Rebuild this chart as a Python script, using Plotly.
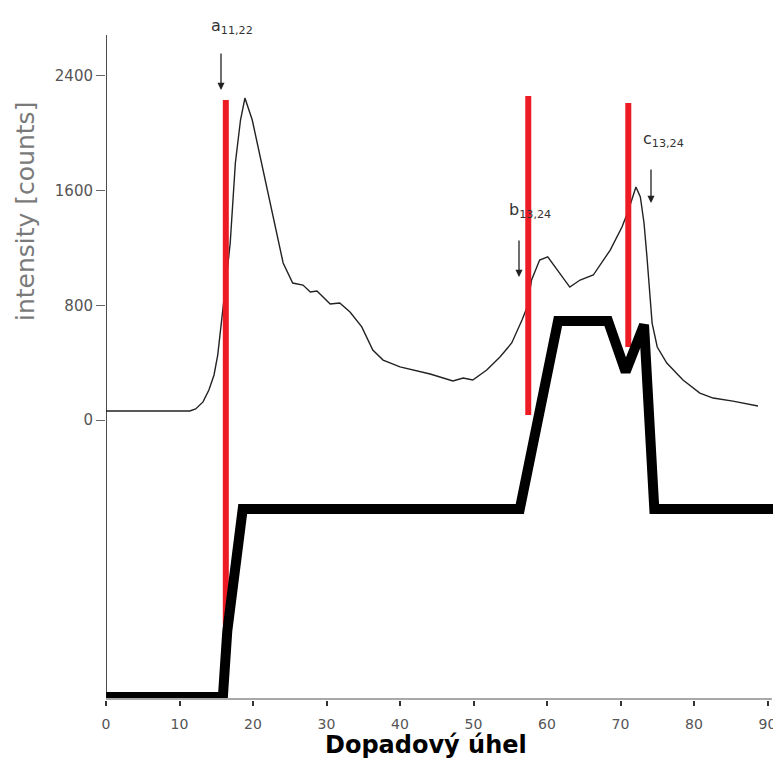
import plotly.graph_objects as go

# ---------------- data ----------------
intensity_deg = [0, 4.6, 11.4, 12.2, 13.2, 14.0, 14.7, 15.2, 15.6, 16.1, 16.5, 16.9, 17.6, 18.3,
                 18.9, 19.9, 21.0, 22.3, 23.3, 24.1, 25.4, 26.8, 27.8, 28.7, 30.5, 31.8, 33.2,
                 34.8, 36.3, 37.7, 40.0, 41.8, 44.1, 47.2, 48.6, 49.9, 51.8, 53.6, 55.2, 56.6,
                 57.3, 57.9, 59.0, 60.1, 61.4, 63.1, 64.5, 66.3, 68.6, 70.2, 71.0, 71.6, 72.1,
                 72.7, 73.2, 73.6, 73.9, 74.3, 75.0, 76.3, 78.5, 80.8, 82.6, 85.3, 88.7]
intensity_counts = [63, 63, 63, 77, 126, 209, 314, 453, 628, 837, 1046, 1234, 1792, 2092,
                    2245, 2092, 1834, 1513, 1276, 1095, 955, 941, 893, 900, 809, 816, 753,
                    649, 488, 418, 370, 349, 321, 272, 293, 279, 349, 439, 537, 697,
                    788, 976, 1116, 1137, 1046, 927, 976, 1011, 1185, 1346, 1450, 1555, 1625,
                    1555, 1374, 1137, 955, 676, 509, 397, 279, 188, 153, 132, 98]

profile_deg = [0, 15.9, 16.5, 18.6, 56.3, 61.5, 68.3, 70.7, 73.2, 74.0, 74.6, 91.9]
profile_level = [0, 0, 0.35, 1, 1, 2, 2, 1.73, 1.98, 1.5, 1, 1]

marker_deg = [16.3, 57.45, 71.06]
marker_top = [2232, 2259, 2211]
marker_bottom = [-1430, 35, 509]

x_ticks = [0, 10, 20, 30, 40, 50, 60, 70, 80, 90]
y_ticks = [0, 800, 1600, 2400]

peak_labels = ["a<sub>11,22</sub>", "b<sub>13,24</sub>", "c<sub>13,24</sub>"]

# ---------------- layout geometry ----------------
# the page has an 8px body margin, so figure coordinates = page coordinates - 8
OFF = 8
FIG_W, FIG_H = 781 - OFF, 760 - OFF
L = 106 - OFF          # plot area left (figure px)
T = 0                  # plot area top  (figure px) -> page y 8
H = 700 - OFF          # plot area height -> bottom at page y 700
W = FIG_W - L


def px(x_page):
    return (x_page - OFF - L) / W


def py(y_page):
    return (T + H - (y_page - OFF)) / H


fig = go.Figure()

fig.add_trace(go.Scatter(x=intensity_deg, y=intensity_counts, mode="lines",
                         line=dict(color="#222222", width=1.4), hoverinfo="skip"))

for d, top, bot in zip(marker_deg, marker_top, marker_bottom):
    fig.add_trace(go.Scatter(x=[d, d], y=[bot, top], mode="lines",
                             line=dict(color="#ed1c24", width=6), hoverinfo="skip"))

fig.add_trace(go.Scatter(x=profile_deg, y=profile_level, mode="lines", yaxis="y2",
                         line=dict(color="#000000", width=10), hoverinfo="skip"))

# axis lines drawn as shapes
fig.add_shape(type="line", xref="x", yref="y", x0=0, x1=0, y0=2685, y1=-1953,
              line=dict(color="#111111", width=1.5))
fig.add_shape(type="line", xref="x", yref="paper", x0=0, x1=90.6, y0=py(699), y1=py(699),
              line=dict(color="#a8a8a8", width=2))

# peak labels
label_pos = [(209, 26), (507, 211), (641, 139)]
for txt, (lx, ly) in zip(peak_labels, label_pos):
    fig.add_annotation(xref="paper", yref="paper", x=px(lx), y=py(ly), text=txt,
                       showarrow=False, xanchor="left", yanchor="middle",
                       font=dict(family="DejaVu Sans", size=16, color="#333333"))

# arrows
arrows = [(221, 90, 38), (519, 277, 38), (651, 203, 35)]
for ax_, ay_, ln in arrows:
    fig.add_annotation(xref="paper", yref="paper", x=px(ax_), y=py(ay_), text="",
                       showarrow=True, ax=0, ay=-ln, arrowhead=2, arrowsize=1.1,
                       arrowwidth=1.3, arrowcolor="#222222", standoff=0)

# axis titles
fig.add_annotation(xref="paper", yref="paper", x=px(426), y=py(745), text="<b>Dopadový úhel</b>",
                   showarrow=False, xanchor="center", yanchor="middle",
                   font=dict(family="DejaVu Sans", size=24, color="#000000"))
fig.add_annotation(xref="paper", yref="paper", x=px(25), y=py(212), text="intensity [counts]",
                   showarrow=False, xanchor="center", yanchor="middle", textangle=-90,
                   font=dict(family="DejaVu Sans", size=25, color="#7a7a7a"))

# y ranges: page_y = 420 - c*0.1434 ; page_y = 697 - level*188
top_page, bot_page = OFF, 700
y1_range = [(420 - bot_page) / 0.1434, (420 - top_page) / 0.1434]
y2_range = [(697 - bot_page) / 188, (697 - top_page) / 188]

fig.update_layout(
    width=FIG_W, height=FIG_H,
    margin=dict(l=L, r=0, t=T, b=FIG_H - T - H),
    paper_bgcolor="white", plot_bgcolor="white",
    showlegend=False,
    xaxis=dict(range=[0, W / 7.35], tickvals=x_ticks, ticktext=[str(v) for v in x_ticks],
               ticks="outside", ticklen=5, tickwidth=1.5, tickcolor="#333333",
               ticklabelstandoff=6,
               showgrid=False, zeroline=False, showline=False,
               tickfont=dict(family="DejaVu Sans", size=14, color="#555555")),
    yaxis=dict(range=y1_range, tickvals=y_ticks, ticktext=[str(v) for v in y_ticks],
               ticks="outside", ticklen=9, tickwidth=1, tickcolor="#666666",
               showgrid=False, zeroline=False, showline=False,
               tickfont=dict(family="DejaVu Sans", size=15, color="#555555")),
    yaxis2=dict(range=y2_range, overlaying="y", visible=False),
)

fig.write_html("out.html")
